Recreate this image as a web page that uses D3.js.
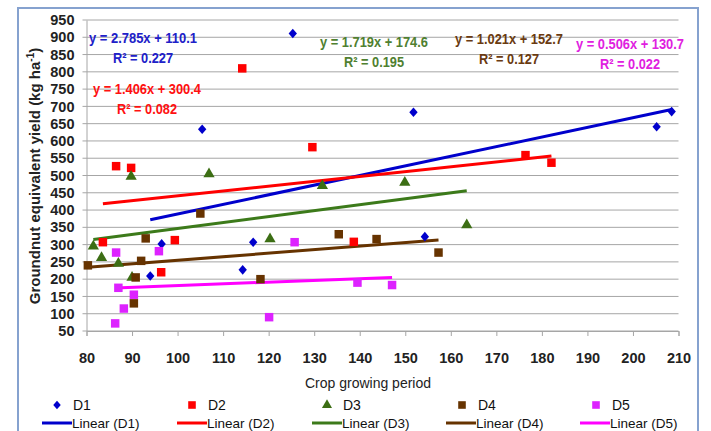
<!DOCTYPE html>
<html>
<head>
<meta charset="utf-8">
<script src="https://cdn.jsdelivr.net/npm/d3@7"></script>
<style>
  body { margin: 0; background: #fff; }
  svg text { font-family: "Liberation Sans", Arial, sans-serif; }
</style>
</head>
<body>
<div id="chart"></div>
<script>
// ==============================
// data
// ==============================
const seriesNames = ['D1', 'D2', 'D3', 'D4', 'D5'];

const d1X = [96.5, 94, 116.6, 114.3, 154.3, 105.4, 125.3, 151.8, 208.5, 205.2];
const d1Y = [302, 209, 307, 227, 323, 634, 911, 683, 685, 641];

const d2X = [83.6, 96.4, 99.4, 138.7, 114.2, 86.5, 89.8, 129.6, 176.4, 182.1];
const d2Y = [307, 220, 313, 308, 810, 527, 522, 582, 559, 537];

const d3X = [81.5, 83.3, 87, 90, 131.8, 120.3, 163.5, 89.8, 106.9, 149.9];
const d3Y = [295, 262, 245, 205, 470, 316, 357, 497, 504, 480];

const d4X = [80.3, 92, 93, 90.8, 90.4, 105, 135.4, 118.2, 143.7, 157.3];
const d4Y = [240, 253, 318, 205, 130, 390, 330, 200, 316, 277];

const d5X = [86.5, 95.9, 87, 90.4, 88.2, 86.3, 125.7, 139.5, 120.1, 147.1];
const d5Y = [277, 281, 175, 155, 115, 72, 307, 190, 90, 183];

// trendline equations as printed on the chart
const slopes = [2.785, 1.406, 1.719, 1.021, 0.506];
const intercepts = [110.1, 300.4, 174.6, 152.7, 130.7];
const rSquared = ['0.227', '0.082', '0.195', '0.127', '0.022'];

const xTicks = d3.range(80, 211, 10);
const yTicks = d3.range(50, 951, 50);

// ==============================
// styling
// ==============================
const lineColors = ['#0000cc', '#ff0000', '#3c7a1a', '#663300', '#ff00ff'];
const markColors = ['#0000cc', '#ff0000', '#3c6e14', '#663300', '#dd22ff'];
const labelColors = ['#2020c8', '#ff1010', '#4f8030', '#6a3a10', '#e020e0'];

// label anchor positions for the equations (pixels, centre of text)
const eqPos = [[143, 38, 58], [147, 89, 109], [374, 42, 62], [509, 39, 59], [630, 44, 64]];

const W = 711, H = 431;

const svg = d3.select('#chart')
  .append('svg')
  .attr('width', W)
  .attr('height', H);

// outer chart border
svg.append('rect')
  .attr('x', 18).attr('y', 8)
  .attr('width', 680).attr('height', 440)
  .attr('fill', 'none')
  .attr('stroke', '#86a2cf')
  .attr('stroke-width', 2);

const x = d3.scaleLinear().domain([80, 210]).range([86.5, 678.5]);
const y = d3.scaleLinear().domain([50, 950]).range([331, 20]);

// gridlines
svg.append('g')
  .selectAll('line')
  .data(yTicks)
  .join('line')
  .attr('x1', x(80) - 4)
  .attr('x2', x(210))
  .attr('y1', (d) => y(d))
  .attr('y2', (d) => y(d))
  .attr('stroke', '#a6a6a6')
  .attr('stroke-width', 1);

// y axis
const yAxisG = svg.append('g')
  .attr('transform', `translate(${x(80)},0)`)
  .call(d3.axisLeft(y).tickValues(yTicks).tickSize(0).tickPadding(12));
yAxisG.select('.domain').attr('stroke', '#a6a6a6');
yAxisG.selectAll('text')
  .attr('font-size', 14.5)
  .attr('font-weight', 'bold')
  .attr('fill', '#222');

// x axis
const xAxisG = svg.append('g')
  .attr('transform', `translate(0,${y(50)})`)
  .call(d3.axisBottom(x).tickValues(xTicks).tickSize(5).tickPadding(17));
xAxisG.select('.domain').attr('stroke', '#a6a6a6');
xAxisG.selectAll('line').attr('stroke', '#a6a6a6');
xAxisG.selectAll('text')
  .attr('font-size', 14.5)
  .attr('font-weight', 'bold')
  .attr('fill', '#222');

// axis titles
svg.append('text')
  .attr('x', 368).attr('y', 388)
  .attr('text-anchor', 'middle')
  .attr('font-size', 14)
  .attr('fill', '#222')
  .text('Crop growing period');

const yTitle = svg.append('text')
  .attr('transform', 'translate(40,176) rotate(-90)')
  .attr('text-anchor', 'middle')
  .attr('font-size', 15)
  .attr('font-weight', 'bold')
  .attr('fill', '#222');
yTitle.append('tspan').text('Groundnut equivalent yield (kg ha');
yTitle.append('tspan').attr('font-size', 10).attr('dy', -6).text('-1');
yTitle.append('tspan').attr('dy', 6).text(')');

// marker shapes
const diamond = {
  draw(ctx, size) {
    const r = Math.sqrt(size) / 2;
    ctx.moveTo(0, -r * 1.15);
    ctx.lineTo(r, 0);
    ctx.lineTo(0, r * 1.15);
    ctx.lineTo(-r, 0);
    ctx.closePath();
  },
};
const shapes = [diamond, d3.symbolSquare, d3.symbolTriangle, d3.symbolSquare, d3.symbolSquare];
const sizes = [70, 72, 55, 72, 72];

const allX = [d1X, d2X, d3X, d4X, d5X];
const allY = [d1Y, d2Y, d3Y, d4Y, d5Y];

// trend lines
allX.forEach((xs, i) => {
  const [lo, hi] = d3.extent(xs);
  svg.append('line')
    .attr('x1', x(lo))
    .attr('y1', y(intercepts[i] + slopes[i] * lo))
    .attr('x2', x(hi))
    .attr('y2', y(intercepts[i] + slopes[i] * hi))
    .attr('stroke', lineColors[i])
    .attr('stroke-width', 3);
});

// points
allX.forEach((xs, i) => {
  const pts = xs.map((v, j) => ({ x: v, y: allY[i][j] }));
  svg.append('g')
    .selectAll('path')
    .data(pts)
    .join('path')
    .attr('transform', (d) => `translate(${x(d.x)},${y(d.y)})`)
    .attr('d', d3.symbol(shapes[i], sizes[i]))
    .attr('fill', markColors[i]);
});

// equation labels
slopes.forEach((s, i) => {
  const [cx, y1, y2] = eqPos[i];
  svg.append('text')
    .attr('x', cx).attr('y', y1 + 5)
    .attr('text-anchor', 'middle')
    .attr('font-size', 14)
    .attr('font-weight', 'bold')
    .attr('textLength', 108)
    .attr('lengthAdjust', 'spacingAndGlyphs')
    .attr('fill', labelColors[i])
    .text(`y = ${s.toFixed(3)}x + ${intercepts[i].toFixed(1)}`);
  svg.append('text')
    .attr('x', cx).attr('y', y2 + 5)
    .attr('text-anchor', 'middle')
    .attr('font-size', 14)
    .attr('font-weight', 'bold')
    .attr('textLength', 60)
    .attr('lengthAdjust', 'spacingAndGlyphs')
    .attr('fill', labelColors[i])
    .text(`R² = ${rSquared[i]}`);
});

// legend
const legMarkX = [57, 192, 327, 462, 596];
const legLineX = [42, 177, 312, 446, 580];
const legend = svg.append('g');
seriesNames.forEach((name, i) => {
  legend.append('path')
    .attr('transform', `translate(${legMarkX[i]},405)`)
    .attr('d', d3.symbol(shapes[i], sizes[i] * 0.8))
    .attr('fill', markColors[i]);
  legend.append('text')
    .attr('x', legMarkX[i] + 16).attr('y', 410)
    .attr('font-size', 14)
    .attr('fill', '#111')
    .text(name);
  legend.append('line')
    .attr('x1', legLineX[i]).attr('x2', legLineX[i] + 30)
    .attr('y1', 423).attr('y2', 423)
    .attr('stroke', lineColors[i])
    .attr('stroke-width', 3);
  legend.append('text')
    .attr('x', legLineX[i] + 30).attr('y', 428)
    .attr('font-size', 13.5)
    .attr('fill', '#111')
    .text(`Linear (${name})`);
});
</script>
</body>
</html>
